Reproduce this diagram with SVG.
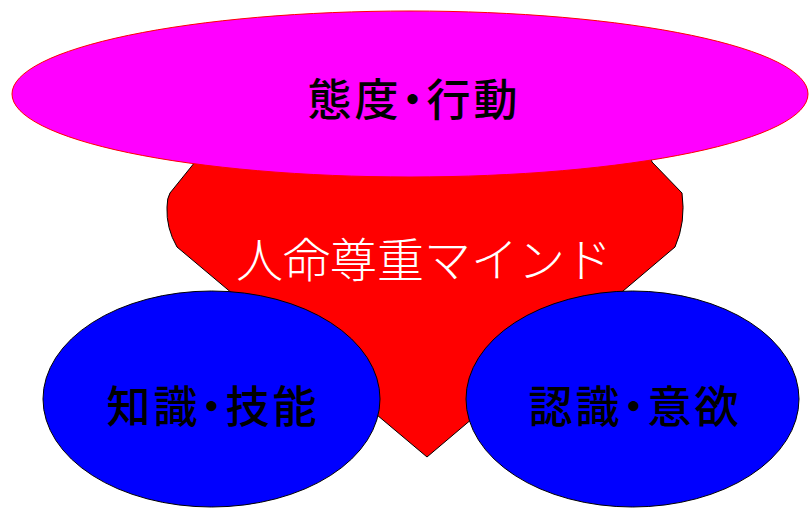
<svg xmlns="http://www.w3.org/2000/svg" width="809" height="508" viewBox="0 0 809 508">
<style>
.lbl{font-family:"Noto Sans CJK JP","Noto Sans CJK SC",sans-serif;text-anchor:middle;dominant-baseline:central}
.dark{fill:#000;font-size:44px;font-weight:500;font-feature-settings:"palt";letter-spacing:3px}
.light{fill:#fff;font-size:47px;font-weight:300}
</style>
<rect width="809" height="508" fill="#fff"/>
<g id="heart">
<path d="M427,457 L177,247 Q166,228 167,207 Q167,198 170,193 L195,162 L215,120 L640,120 L652,162 L682,193 Q686,222 675,247 Z" fill="#f00" stroke="#000" stroke-width="1"/>
<text class="lbl light" x="424" y="256">人命尊重マインド</text>
</g>
<g id="attitude">
<ellipse cx="410" cy="94" rx="398" ry="83" fill="#f0f" stroke="#f00" stroke-width="1"/>
<text class="lbl dark" x="414" y="97">態度・行動</text>
</g>
<g id="knowledge">
<ellipse cx="211.5" cy="399" rx="168.5" ry="108" fill="#00f" stroke="#000" stroke-width="1"/>
<text class="lbl dark" x="213" y="404">知識・技能</text>
</g>
<g id="awareness">
<ellipse cx="632.5" cy="399" rx="166.5" ry="108" fill="#00f" stroke="#000" stroke-width="1"/>
<text class="lbl dark" x="635" y="404">認識・意欲</text>
</g>
<g id="connectors"></g>
</svg>
